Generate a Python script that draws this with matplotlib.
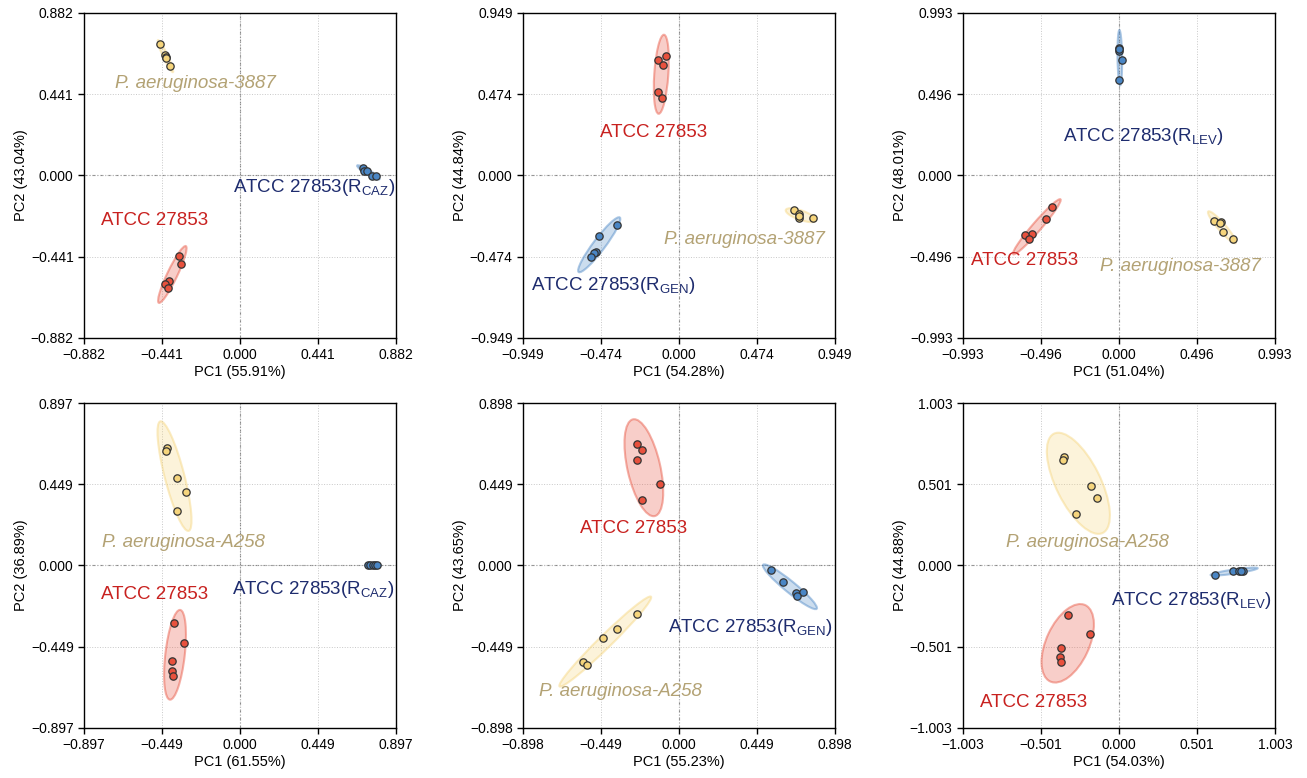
import numpy as np
import matplotlib
matplotlib.use("Agg")
import matplotlib.pyplot as plt
from matplotlib.patches import Ellipse
from matplotlib.colors import to_rgba

plt.rcParams['font.family'] = ['Liberation Sans', 'DejaVu Sans']
plt.rcParams['mathtext.fontset'] = 'custom'
plt.rcParams['mathtext.rm'] = 'Liberation Sans'
plt.rcParams['mathtext.it'] = 'Liberation Sans:italic'

# Colores de los grupos
col_red = '#E8513D'
col_blue = '#4A86C5'
col_yel = '#F6D57C'
txt_red = '#C8211F'
txt_blue = '#1E2C6E'
txt_yel = '#B3A274'

# Límites de cada panel (los ticks son -lim, -lim/2, 0, lim/2, lim)
limits = [0.882, 0.949, 0.993, 0.897, 0.898, 1.003]
pc1_labels = ['PC1 (55.91%)', 'PC1 (54.28%)', 'PC1 (51.04%)',
              'PC1 (61.55%)', 'PC1 (55.23%)', 'PC1 (54.03%)']
pc2_labels = ['PC2 (43.04%)', 'PC2 (44.84%)', 'PC2 (48.01%)',
              'PC2 (36.89%)', 'PC2 (43.65%)', 'PC2 (44.88%)']

# Datos por panel: ATCC 27853 (rojo), resistente (azul), clínico (amarillo)
red_x = [[-0.347, -0.335, -0.401, -0.424, -0.407],
         [-0.131, -0.098, -0.078, -0.129, -0.104],
         [-0.425, -0.465, -0.554, -0.596, -0.575],
         [-0.378, -0.320, -0.391, -0.393, -0.387],
         [-0.241, -0.211, -0.241, -0.109, -0.211],
         [-0.331, -0.187, -0.376, -0.378, -0.376]]
red_y = [[-0.437, -0.479, -0.571, -0.589, -0.611],
         [0.673, 0.647, 0.696, 0.486, 0.454],
         [-0.192, -0.266, -0.357, -0.365, -0.388],
         [-0.317, -0.428, -0.525, -0.585, -0.610],
         [0.671, 0.636, 0.583, 0.452, 0.360],
         [-0.304, -0.425, -0.509, -0.567, -0.596]]
blue_x = [[0.694, 0.703, 0.716, 0.748, 0.767],
          [-0.379, -0.485, -0.507, -0.519, -0.538],
          [0.003, 0.001, 0.018, 0.003, 0.001],
          [0.735, 0.750, 0.765, 0.778, 0.790],
          [0.527, 0.596, 0.673, 0.716, 0.679],
          [0.616, 0.731, 0.774, 0.796, 0.785]]
blue_y = [[0.039, 0.026, 0.024, -0.001, -0.003],
          [-0.291, -0.355, -0.449, -0.454, -0.474],
          [0.781, 0.761, 0.706, 0.582, 0.770],
          [0.002, 0.001, 0.003, 0.002, 0.001],
          [-0.023, -0.093, -0.152, -0.149, -0.171],
          [-0.057, -0.032, -0.034, -0.032, -0.033]]
yel_x = [[-0.452, -0.425, -0.420, -0.418, -0.394],
         [0.697, 0.729, 0.732, 0.817, 0.730],
         [0.605, 0.648, 0.661, 0.724, 0.640],
         [-0.421, -0.427, -0.364, -0.312, -0.360],
         [-0.243, -0.355, -0.439, -0.555, -0.532],
         [-0.352, -0.358, -0.177, -0.142, -0.277]]
yel_y = [[0.712, 0.652, 0.645, 0.636, 0.594],
         [-0.201, -0.225, -0.248, -0.248, -0.238],
         [-0.276, -0.286, -0.343, -0.388, -0.290],
         [0.646, 0.632, 0.481, 0.407, 0.301],
         [-0.266, -0.349, -0.403, -0.532, -0.552],
         [0.667, 0.653, 0.488, 0.414, 0.315]]

# Etiquetas de los grupos
res_names = ['CAZ', 'GEN', 'LEV', 'CAZ', 'GEN', 'LEV']
clin_names = ['3887', '3887', '3887', 'A258', 'A258', 'A258']
red_lab = [(-0.482, -0.242), (-0.156, 0.250), (-0.601, -0.520),
           (-0.490, -0.161), (-0.263, 0.202), (-0.549, -0.845)]
blue_lab = [(0.418, -0.066), (-0.400, -0.640), (0.156, 0.237),
            (0.421, -0.130), (0.411, -0.340), (0.468, -0.215)]
yel_lab = [(-0.250, 0.500), (0.400, -0.373), (0.389, -0.557),
           (-0.326, 0.128), (-0.340, -0.695), (-0.206, 0.139)]


def elipse(ax, x, y, color, n_std=2.05):
    x = np.asarray(x)
    y = np.asarray(y)
    cov = np.cov(x, y)
    vals, vecs = np.linalg.eigh(cov)
    order = vals.argsort()[::-1]
    vals, vecs = vals[order], vecs[:, order]
    ang = np.degrees(np.arctan2(vecs[1, 0], vecs[0, 0]))
    w, h = 2 * n_std * np.sqrt(np.maximum(vals, 4e-5))
    e = Ellipse((x.mean(), y.mean()), w, h, angle=ang,
                facecolor=to_rgba(color, 0.28), edgecolor=to_rgba(color, 0.45),
                lw=1.5, zorder=2)
    ax.add_patch(e)


fig = plt.figure(figsize=(13.07, 7.78), dpi=100)
lefts = [0.0643, 0.4002, 0.7368]
bottoms = [0.5656, 0.0643]
w, h = 0.2387, 0.4177

for i in range(6):
    ax = fig.add_axes([lefts[i % 3], bottoms[i // 3], w, h])
    lim = limits[i]
    ticks = [-lim, -lim / 2, 0, lim / 2, lim]
    ax.set_xlim(-lim, lim)
    ax.set_ylim(-lim, lim)
    labs = [('%.3f' % t).replace('-', '\u2212') for t in ticks]
    ax.set_xticks(ticks)
    ax.set_xticklabels(labs)
    ax.set_yticks(ticks)
    ax.set_yticklabels(labs)
    ax.tick_params(labelsize=10, length=4, width=1)
    ax.grid(True, linestyle=':', color='#c8c8c8', linewidth=0.7)
    ax.axhline(0, color='#8a8a8a', linestyle=(0, (3, 1.5, 1, 1.5)), linewidth=0.8, zorder=1)
    ax.axvline(0, color='#8a8a8a', linestyle=(0, (3, 1.5, 1, 1.5)), linewidth=0.8, zorder=1)
    for s in ax.spines.values():
        s.set_linewidth(1.0)

    for xs, ys, c in [(red_x[i], red_y[i], col_red),
                      (blue_x[i], blue_y[i], col_blue),
                      (yel_x[i], yel_y[i], col_yel)]:
        elipse(ax, xs, ys, c)
        ax.scatter(xs, ys, s=28, color=c, edgecolor='#333333', linewidth=0.9, zorder=3)

    ax.text(red_lab[i][0], red_lab[i][1], 'ATCC 27853', color=txt_red,
            fontsize=13.5, ha='center', va='center')
    ax.text(blue_lab[i][0], blue_lab[i][1],
            'ATCC 27853(R$_{\\mathrm{' + res_names[i] + '}}$)', color=txt_blue,
            fontsize=13.5, ha='center', va='center')
    ax.text(yel_lab[i][0], yel_lab[i][1], 'P. aeruginosa-' + clin_names[i],
            color=txt_yel, fontsize=13.5, style='italic', ha='center', va='center')

    ax.set_xlabel(pc1_labels[i], fontsize=10.5, labelpad=2)
    ax.set_ylabel(pc2_labels[i], fontsize=10.5, labelpad=2)

fig.savefig('out.png', dpi=100)
